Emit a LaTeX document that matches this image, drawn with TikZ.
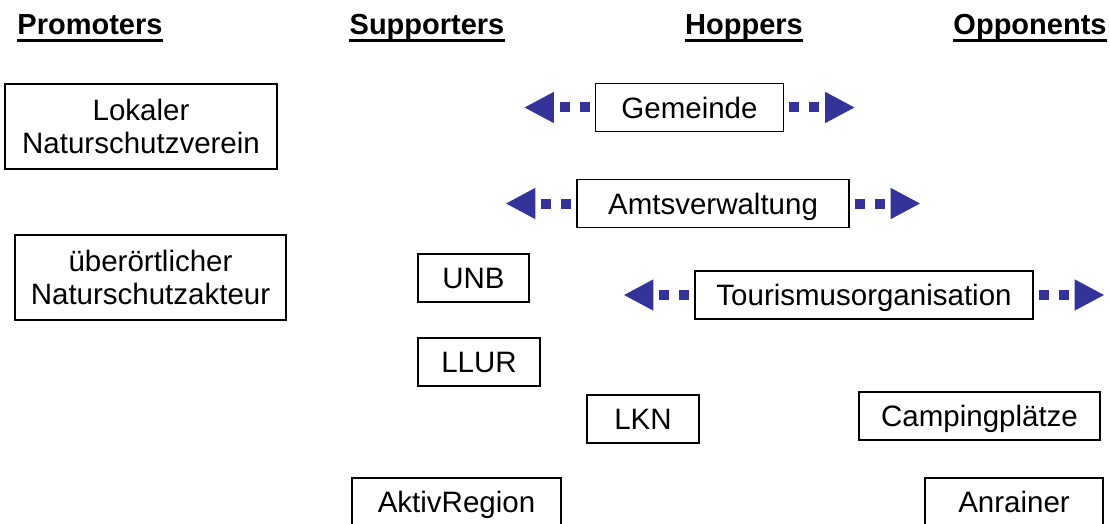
\documentclass[tikz,border=0pt]{standalone}
\usepackage{fontspec}
\setmainfont{Liberation Sans}
\usetikzlibrary{arrows.meta,positioning,calc}
\definecolor{hopblue}{RGB}{51,51,153}

\begin{document}
\begin{tikzpicture}[x=1pt,y=-1pt,
  box/.style={draw,line width=1.2pt,minimum height=48pt,inner sep=0pt,align=center,font=\fontsize{29.5}{33}\selectfont},
  one/.style={box,text height=21pt,text depth=0pt},
  head/.style={font=\fontsize{29}{34}\bfseries\selectfont,inner sep=0pt,anchor=base},
  hop/.style={hopblue,line width=10pt,dash pattern=on 10pt off 10pt,shorten <=5pt,-{Triangle[length=30pt,width=29pt]}}]
  \useasboundingbox (0,0) rectangle (1110,524);
  % Spaltenkoepfe
  \node[head] (promo) at (90,35) {Promoters};
  \node[head] (supp) at (427,35) {Supporters};
  \node[head] (hopp) at (744,35) {Hoppers};
  \node[head] (oppo) at (1030,35) {Opponents};
  \foreach \h in {promo,supp,hopp,oppo}
    \draw[line width=3pt] ([yshift=-5.5pt]\h.base west) -- ([yshift=-5.5pt]\h.base east); % Unterstreichung
  % Promoters
  \node[box,minimum width=272pt,minimum height=85pt] (lokal) at (141,126.5) {Lokaler\\Naturschutzverein};
  \node[box,minimum width=271pt,minimum height=85pt] (ueber) at (150.5,277.5) {überörtlicher\\Naturschutzakteur};
  % Supporters
  \node[one,minimum width=111pt] (unb) at (473.5,278) {UNB};
  \node[one,minimum width=122pt] (llur) at (479,362) {LLUR};
  \node[one,minimum width=112pt] (lkn) at (643,419) {LKN};
  \node[one,minimum width=209pt] (aktiv) at (456.5,502) {AktivRegion};
  % Hoppers
  \node[one,minimum width=188pt] (gem) at (689.5,107.5) {Gemeinde};
  \node[one,minimum width=272pt] (amts) at (713,203.5) {Amtsverwaltung};
  \node[one,minimum width=338pt] (tour) at (864,295) {Tourismusorganisation};
  % Opponents
  \node[one,minimum width=241pt] (camp) at (979.5,416) {Campingplätze};
  \node[one,minimum width=178pt] (anr) at (1014,502) {Anrainer};
  % Pfeile nach beiden Seiten
  \foreach \n in {gem,amts,tour}{
    \coordinate (\n-l) at ([xshift=-71pt]\n.west);
    \coordinate (\n-r) at ([xshift=71pt]\n.east);
    \draw[hop] (\n.west) -- (\n-l);
    \draw[hop] (\n.east) -- (\n-r);
  }
\end{tikzpicture}
\end{document}
